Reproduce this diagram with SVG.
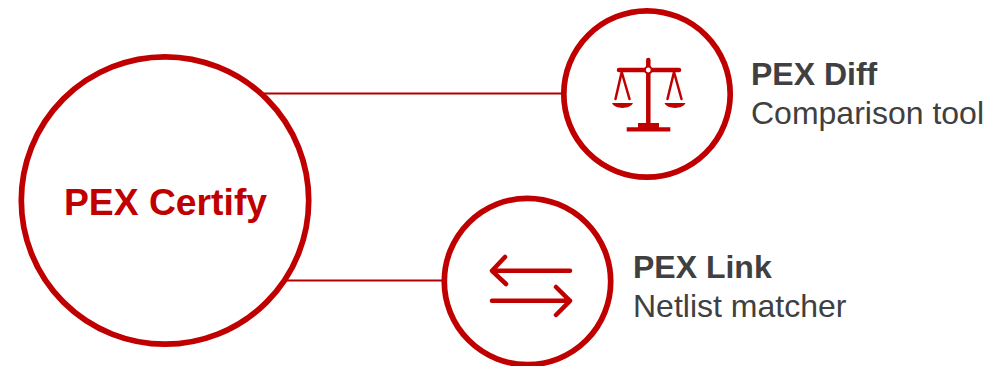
<svg xmlns="http://www.w3.org/2000/svg" width="989" height="366" viewBox="0 0 989 366">
<style>
.ring{fill:#fff;stroke:#c00000;stroke-width:5.700}
.conn{fill:none;stroke:#b00000;stroke-width:2.200}
.ic{fill:none;stroke:#c00000;stroke-linecap:round;stroke-linejoin:round}
.red{fill:#c00000}
text{font-family:"Liberation Sans",Arial,sans-serif;font-size:32px;fill:#404040}
.b{font-weight:bold}
</style>
<rect width="989" height="366" fill="#fff"/>
<g id="connectors">
<line class="conn" x1="262" y1="93.500" x2="564" y2="93.500"/>
<line class="conn" x1="285" y1="280.500" x2="445" y2="280.500"/>
</g>
<g id="pex-certify">
<circle class="ring" cx="165" cy="200.500" r="143.700"/>
<text x="165.500" y="215" text-anchor="middle" class="b" style="font-size:37.300px;fill:#c00000">PEX Certify</text>
</g>
<g id="pex-diff">
<circle class="ring" cx="647" cy="94" r="83.200"/>
<g id="scales-icon">
<path class="ic" stroke-width="4.500" d="M648.300 60V70M619 70H679"/>
<path class="ic" stroke-width="4.500" d="M648.300 72V126"/>
<path class="red" d="M638 123H659V127.300H670.300V131.500H626.700V127.300H638Z"/>
<circle cx="648.300" cy="70" r="3.400" fill="#fff" stroke="#c00000" stroke-width="2"/>
<path class="ic" stroke-width="2.500" d="M621.700 72L615.500 99M621.700 72L629.500 99M674 72L667.500 99M674 72L681.500 99"/>
<path class="red" d="M612 103H633C630 109.500 615 109.500 612 103ZM664.500 103H685.500C682.500 109.500 667.500 109.500 664.500 103Z"/>
</g>
<text x="751" y="85" class="b">PEX Diff</text>
<text x="751" y="124">Comparison tool</text>
</g>
<g id="pex-link">
<circle class="ring" cx="527.500" cy="281.500" r="83.200"/>
<g id="arrows-icon">
<path class="ic" stroke-width="4.500" d="M570 270.800H492M505 257L492 270.800L506 284"/>
<path class="ic" stroke-width="4.500" d="M492 300.800H570M556 287L570 300.800L556 315"/>
</g>
<text x="633" y="278" class="b">PEX Link</text>
<text x="633" y="317">Netlist matcher</text>
</g>
</svg>
